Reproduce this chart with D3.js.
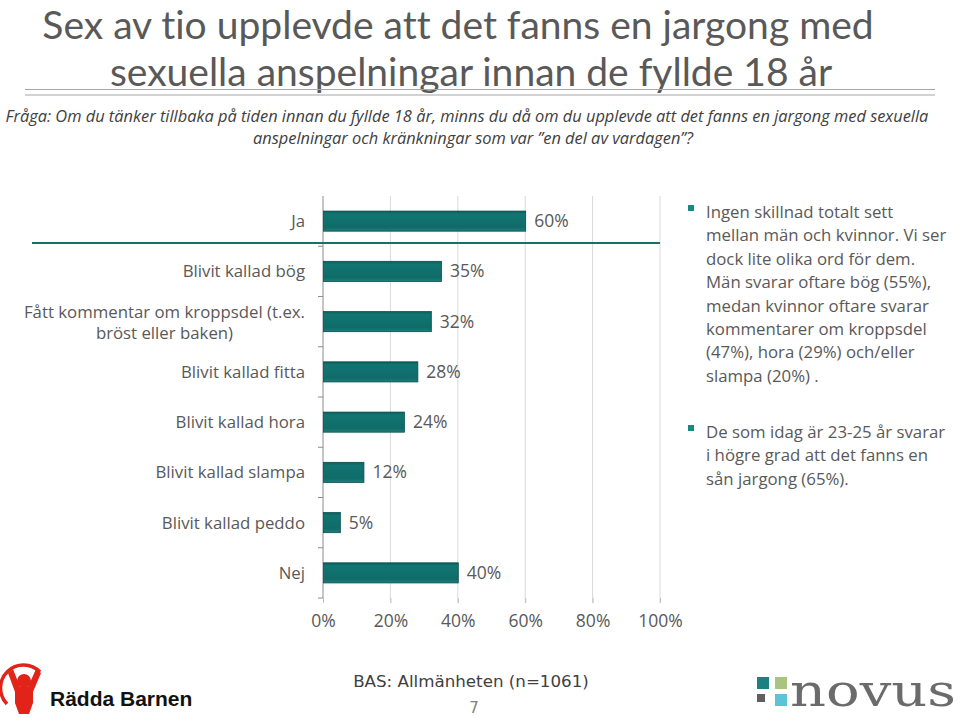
<!DOCTYPE html>
<html><head><meta charset="utf-8">
<script src="https://cdn.jsdelivr.net/npm/d3@7"></script>
<style>
body{margin:0;background:#fff;}
svg{display:block;}
text{font-variant-ligatures:none;}
</style></head>
<body>
<svg id="c" width="960" height="718"></svg>
<script>
const categories = ["Ja","Blivit kallad bög","Fått kommentar om kroppsdel (t.ex.|bröst eller baken)","Blivit kallad fitta","Blivit kallad hora","Blivit kallad slampa","Blivit kallad peddo","Nej"];
const values = [0.60,0.35,0.32,0.28,0.24,0.12,0.05,0.40];
const xTicks = [0,0.2,0.4,0.6,0.8,1.0];
const titleLines = ["Sex av tio upplevde att det fanns en jargong med","sexuella anspelningar innan de fyllde 18 år"];
const questionLines = ["Fråga: Om du tänker tillbaka på tiden innan du fyllde 18 år, minns du då om du upplevde att det fanns en jargong med sexuella","anspelningar och kränkningar som var ”en del av vardagen”?"];
const bullet1 = ["Ingen skillnad totalt sett","mellan män och kvinnor. Vi ser","dock lite olika ord för dem.","Män svarar oftare bög (55%),","medan kvinnor oftare svarar","kommentarer om kroppsdel","(47%), hora (29%) och/eller","slampa (20%) ."];
const bullet2 = ["De som idag är 23-25 år svarar","i högre grad att det fanns en","sån jargong (65%)."];

const svg = d3.select("#c");
const gray = "#595959";
const F = "'Open Sans', Lato, sans-serif";
const FS = 16.8;

// Title
svg.selectAll("text.title").data(titleLines).join("text").attr("class","title")
  .attr("x",(d,i)=>i===0?458:471).attr("y",(d,i)=>i===0?38.5:85.5)
  .attr("text-anchor","middle").attr("font-family","Lato, 'Open Sans', sans-serif").attr("font-size",39)
  .attr("fill",gray).text(d=>d);
svg.append("line").attr("x1",25).attr("x2",935).attr("y1",89.5).attr("y2",89.5).attr("stroke","#a6a6a6").attr("stroke-width",1.2);
svg.append("line").attr("x1",25).attr("x2",935).attr("y1",95).attr("y2",95).attr("stroke","#a6a6a6").attr("stroke-width",1.2);

const q = svg.append("text").attr("text-anchor","middle").attr("font-family",F)
  .attr("font-style","italic").attr("font-size",16.4).attr("fill","#404040");
q.selectAll("tspan").data(questionLines).join("tspan")
  .attr("x",(d,i)=>i===0?467:473).attr("y",(d,i)=>i===0?122:144).text(d=>d);

// Scales
const x = d3.scaleLinear().domain([0,1]).range([323,660]);
const y = d3.scaleBand().domain(categories).range([196,598]).paddingInner(0.6).paddingOuter(0.3);
const step = y.step();

// gridlines
svg.append("g").selectAll("line").data(xTicks.filter(d=>d>0)).join("line")
  .attr("x1",d=>x(d)).attr("x2",d=>x(d)).attr("y1",196).attr("y2",603)
  .attr("stroke","#d9d9d9").attr("stroke-width",1);

// x axis
const xa = svg.append("g").attr("transform","translate(0,598)")
  .call(d3.axisBottom(x).tickValues(xTicks).tickFormat(d3.format(".0%")).tickSize(5).tickPadding(12));
xa.select(".domain").remove();
xa.selectAll("line").attr("stroke","#bfbfbf");
xa.selectAll("text").attr("font-family",F).attr("font-size",17.5).attr("fill",gray);

// y axis line and boundary ticks
svg.append("line").attr("x1",323).attr("x2",323).attr("y1",196).attr("y2",598).attr("stroke","#8c8c8c");
svg.append("g").selectAll("line").data(d3.range(1,categories.length+1)).join("line")
  .attr("x1",318).attr("x2",323).attr("y1",k=>196+k*step).attr("y2",k=>196+k*step)
  .attr("stroke","#8c8c8c");

// bars
const defs = svg.append("defs");
const grad = defs.append("linearGradient").attr("id","bg").attr("x1",0).attr("x2",0).attr("y1",0).attr("y2",1);
grad.append("stop").attr("offset","0%").attr("stop-color","#0a5e5b");
grad.append("stop").attr("offset","15%").attr("stop-color","#127572");
grad.append("stop").attr("offset","80%").attr("stop-color","#0f6b68");
grad.append("stop").attr("offset","100%").attr("stop-color","#1c7f7c");
svg.append("g").selectAll("rect").data(values).join("rect")
  .attr("x",x(0)+0.5).attr("y",(d,i)=>y(categories[i]))
  .attr("width",d=>x(d)-x(0)).attr("height",y.bandwidth())
  .attr("fill","url(#bg)").attr("stroke","#0a4f4d").attr("stroke-width",0.8);

// value labels
svg.append("g").selectAll("text").data(values).join("text")
  .attr("x",d=>x(d)+9).attr("y",(d,i)=>y(categories[i])+y.bandwidth()/2+6)
  .attr("font-family",F).attr("font-size",17.5).attr("fill",gray)
  .text(d=>Math.round(d*100)+"%");

// category labels
categories.forEach((c,i)=>{
  const cy = y(c)+y.bandwidth()/2;
  const parts = c.split("|");
  if(parts.length===1){
    svg.append("text").attr("x",305).attr("y",cy+6).attr("text-anchor","end")
      .attr("font-family",F).attr("font-size",FS).attr("fill",gray).text(c);
  } else {
    const t = svg.append("text").attr("font-family",F).attr("font-size",FS).attr("fill",gray);
    const t1 = t.append("tspan").attr("x",305).attr("y",cy-4).attr("text-anchor","end").text(parts[0]);
    const w = t1.node().getComputedTextLength();
    t.append("tspan").attr("x",305-w/2).attr("y",cy+17).attr("text-anchor","middle").text(parts[1]);
  }
});

// divider
svg.append("line").attr("x1",32).attr("x2",660).attr("y1",243).attr("y2",243).attr("stroke","#1a6e6b").attr("stroke-width",1.8);

// bullets
function bullets(lines,y0){
  svg.append("rect").attr("x",688).attr("y",y0-13).attr("width",6).attr("height",6).attr("fill","#1a8a80");
  const t = svg.append("text").attr("font-family",F).attr("font-size",FS).attr("fill",gray);
  t.selectAll("tspan").data(lines).join("tspan")
    .attr("x",706).attr("y",(d,i)=>y0+i*23.4).text(d=>d);
}
bullets(bullet1,218);
bullets(bullet2,438);

// footer
svg.append("text").attr("x",471).attr("y",687).attr("text-anchor","middle")
  .attr("font-family","'DejaVu Sans', Verdana, sans-serif").attr("font-size",16.7).attr("fill","#404040").text("BAS: Allmänheten (n=1061)");
svg.append("text").attr("x",474).attr("y",713).attr("text-anchor","middle")
  .attr("font-family","'DejaVu Sans', Verdana, sans-serif").attr("font-size",15).attr("fill","#808080").text("7");

// Rädda Barnen logo
const rb = svg.append("g");
const red = "#e2231a";
rb.append("path").attr("d","M7,704 A21,21 0 0 1 40,672").attr("fill","none").attr("stroke",red).attr("stroke-width",3.5);
rb.append("circle").attr("cx",24).attr("cy",681).attr("r",7).attr("fill",red);
rb.append("path").attr("d","M8,673 L13,669 L20,687 L28,687 L36,669 L41,673 L33,692 L33,703 L29,714 L19,714 L15,703 L15,692 Z").attr("fill",red);
rb.append("text").attr("x",50).attr("y",706).attr("font-family","'Liberation Sans', Arial, sans-serif").attr("font-weight","bold").attr("font-size",21).attr("fill","#111").text("Rädda Barnen");

// Novus logo
const nv = svg.append("g");
nv.append("rect").attr("x",757).attr("y",677).attr("width",12).attr("height",12).attr("fill","#1a8080");
nv.append("rect").attr("x",775).attr("y",677).attr("width",12).attr("height",12).attr("fill","#a9c47f");
nv.append("rect").attr("x",757).attr("y",694).attr("width",8).attr("height",8).attr("fill","#5f5f5f");
nv.append("rect").attr("x",775).attr("y",694).attr("width",12).attr("height",12).attr("fill","#5bc5d6");
nv.append("text").attr("x",790).attr("y",706).attr("font-family","'DejaVu Serif','Liberation Serif',serif").attr("font-size",44).attr("fill","#6b6b6b").attr("textLength",166).attr("lengthAdjust","spacingAndGlyphs").text("novus");
</script>
</body></html>
